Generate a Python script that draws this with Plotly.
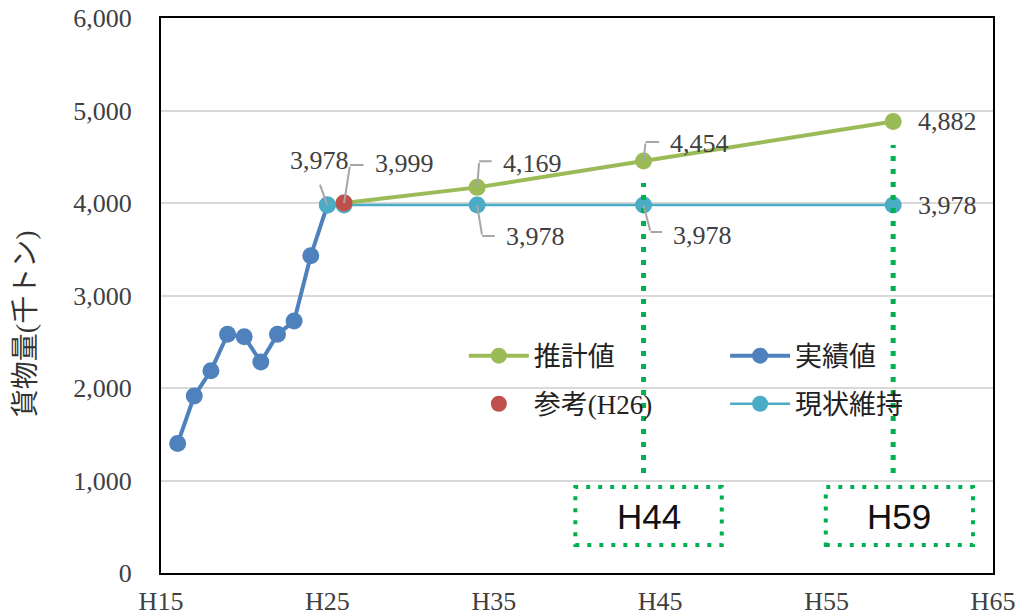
import plotly.graph_objects as go

# ---- data ----
actual_years = [16, 17, 18, 19, 20, 21, 22, 23, 24, 25]
actual_vals = [1400, 1914, 2187, 2580, 2555, 2281, 2580, 2724, 3430, 3978]

proj_years = [26, 34, 44, 59]
proj_vals = [3999, 4169, 4454, 4882]

ref_years = [26]
ref_vals = [3999]

keep_years = [25, 26, 34, 44, 59]
keep_vals = [3978, 3978, 3978, 3978, 3978]

x_tickvals = [15, 25, 35, 45, 55, 65]
x_ticktext = ["H15", "H25", "H35", "H45", "H55", "H65"]
y_tickvals = [0, 1000, 2000, 3000, 4000, 5000, 6000]
y_title = "貨物量(千トン)"

highlight_years = [44, 59]

GREEN = "#9bbb59"
BLUE = "#4f81bd"
RED = "#c0504d"
CYAN = "#4bacc6"
DOT = "#00b050"
LEAD = "#a6a6a6"
TXT = "#404040"
FONT = "Liberation Serif, Noto Sans CJK JP"
NUM = 26

fig = go.Figure()

fig.add_trace(go.Scatter(x=actual_years, y=actual_vals, name="実績値", mode="lines+markers",
                         line=dict(color=BLUE, width=4), marker=dict(size=17, color=BLUE),
                         legend="legend2", legendgroup="a", legendrank=1))
fig.add_trace(go.Scatter(x=keep_years, y=keep_vals, name="現状維持", mode="lines+markers",
                         line=dict(color=CYAN, width=2.5), marker=dict(size=17, color=CYAN),
                         legend="legend2", legendgroup="b", legendrank=2))
fig.add_trace(go.Scatter(x=proj_years, y=proj_vals, name="推計値", mode="lines+markers",
                         line=dict(color=GREEN, width=4), marker=dict(size=17, color=GREEN),
                         legend="legend", legendgroup="c", legendrank=1))
fig.add_trace(go.Scatter(x=ref_years, y=ref_vals, name="参考(H26)", mode="markers",
                         marker=dict(size=17, color=RED),
                         legend="legend", legendgroup="d", legendrank=2))

ann = []


def leader(x, y, ax, ay, hx):
    ann.append(dict(x=x, y=y, xref="x", yref="y", text="", showarrow=True, arrowhead=0,
                    arrowwidth=2, arrowcolor=LEAD, ax=ax, ay=ay, standoff=0, startstandoff=0))
    if hx:
        ann.append(dict(x=x, y=y, xref="x", yref="y", text="", showarrow=True, arrowhead=0,
                        arrowwidth=2, arrowcolor=LEAD, ax=hx, ay=0, xshift=ax, yshift=-ay,
                        standoff=0, startstandoff=0))


def label(x, y, dx, dy, anchor="left"):
    ann.append(dict(x=x, y=y, xref="x", yref="y", text=f"{y:,}", showarrow=False,
                    xanchor=anchor, yanchor="middle", xshift=dx, yshift=dy,
                    font=dict(family=FONT, size=NUM, color=TXT)))


# H25 keep value (upper-left)
leader(keep_years[0], keep_vals[0], -8, -22, 0)
label(keep_years[0], keep_vals[0], -8, 45, "center")
# H26 reference
leader(ref_years[0], ref_vals[0], 6, -38, 15)
label(ref_years[0], ref_vals[0], 29, 40)
# H34
leader(proj_years[1], proj_vals[1], 2, -26, 14)
label(proj_years[1], proj_vals[1], 24, 24)
leader(keep_years[2], keep_vals[2], 5, 31, 14)
label(keep_years[2], keep_vals[2], 27, -31)
# H44
leader(proj_years[2], proj_vals[2], 2, -19, 15)
label(proj_years[2], proj_vals[2], 24, 18)
leader(keep_years[3], keep_vals[3], 7, 27, 13)
label(keep_years[3], keep_vals[3], 27, -30)
# H59
label(proj_years[3], proj_vals[3], 23, 0)
label(keep_years[4], keep_vals[4], 23, 0)

shapes = []
line_tops = [4216, 4627]
box_x = [(39.9, 48.7), (54.95, 63.8)]
for yr, top, (x0, x1) in zip(highlight_years, line_tops, box_x):
    shapes.append(dict(type="line", xref="x", yref="y", x0=yr, x1=yr, y0=1081, y1=top,
                       line=dict(color=DOT, width=5, dash="5px,8px")))
    shapes.append(dict(type="rect", xref="x", yref="y", x0=x0, x1=x1, y0=303, y1=930,
                       line=dict(color=DOT, width=4, dash="4px,8px")))
    ann.append(dict(x=(x0 + x1) / 2, y=616, xref="x", yref="y", text=f"H{yr}", showarrow=False,
                    font=dict(family="Liberation Sans, Arial", size=35, color="#111111")))

# y-axis title (placed as rotated text, slightly below the plot centre as in the reference)
ann.append(dict(x=-0.163, y=0.449, xref="paper", yref="paper", text=y_title, showarrow=False,
                textangle=-90, xanchor="center", yanchor="middle",
                font=dict(family=FONT, size=28, color="#333333")))

fig.update_layout(
    width=1017, height=616,
    margin=dict(l=161, r=24, t=18, b=43, autoexpand=False),
    paper_bgcolor="white", plot_bgcolor="white",
    font=dict(family=FONT, size=NUM, color=TXT),
    showlegend=True,
    legend=dict(x=0.364, y=0.435, xanchor="left", yanchor="top", bgcolor="rgba(0,0,0,0)",
                font=dict(family=FONT, size=27, color="#222222"), tracegroupgap=10,
                itemwidth=60),
    legend2=dict(x=0.678, y=0.435, xanchor="left", yanchor="top", bgcolor="rgba(0,0,0,0)",
                 font=dict(family=FONT, size=27, color="#222222"), tracegroupgap=10,
                 itemwidth=60),
    annotations=ann,
    shapes=shapes,
)

fig.update_xaxes(range=[15, 65], tickvals=x_tickvals, ticktext=x_ticktext, showgrid=False,
                 zeroline=False, showline=True, linecolor="black", linewidth=2, mirror=True,
                 ticks="", ticklabelstandoff=4, automargin=False,
                 tickfont=dict(family=FONT, size=NUM, color=TXT))
fig.update_yaxes(range=[0, 6000], tickvals=y_tickvals, tickformat=",d", showgrid=True,
                 gridcolor="#d9d9d9", gridwidth=2, zeroline=False, showline=True,
                 linecolor="black", linewidth=2, mirror=True, ticks="", ticklabelstandoff=22,
                 automargin=False,
                 tickfont=dict(family=FONT, size=NUM, color=TXT))

fig.write_html("out.html", post_script="document.body.style.margin='0';",
               config={"displayModeBar": False})
